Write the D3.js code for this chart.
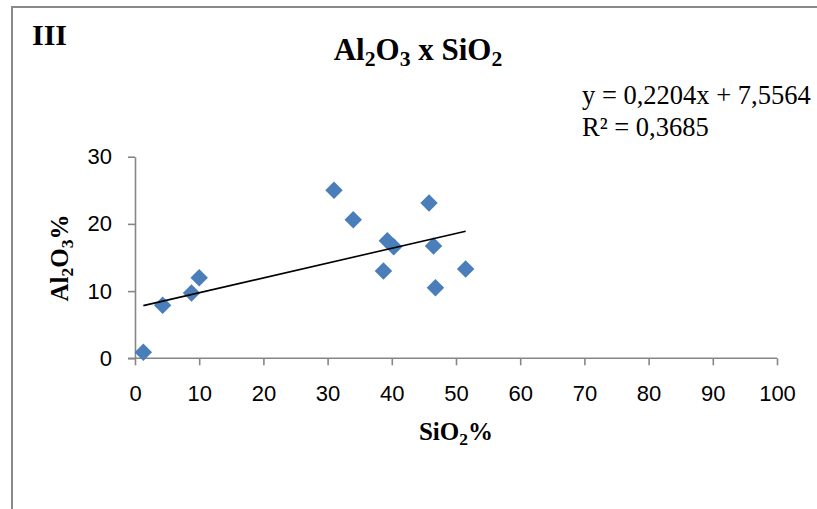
<!DOCTYPE html>
<html>
<head>
<meta charset="utf-8">
<script src="https://cdn.jsdelivr.net/npm/d3@7"></script>
<style>
  html, body { margin: 0; padding: 0; background: #fff; }
  svg { display: block; }
</style>
</head>
<body>
<svg id="chart" width="817" height="509"></svg>
<script>
// ---- data ----
const sio2 = [1.3, 4.3, 8.8, 10.0, 31.0, 34.0, 39.3, 40.3, 38.7, 45.8, 46.5, 46.8, 51.5];
const al2o3 = [0.9, 7.9, 9.7, 12.0, 25.0, 20.6, 17.5, 16.6, 13.0, 23.1, 16.7, 10.5, 13.3];
const xTicks = [0, 10, 20, 30, 40, 50, 60, 70, 80, 90, 100];
const yTicks = [0, 10, 20, 30];
const trendSlope = 0.2204;
const trendIntercept = 7.5564;
const equationText = "y = 0,2204x + 7,5564";
const r2Text = "R² = 0,3685";

const svg = d3.select("#chart");

// outer chart border
svg.append("rect")
  .attr("x", 12).attr("y", 7).attr("width", 830).attr("height", 520)
  .attr("fill", "#fff").attr("stroke", "#898989").attr("stroke-width", 2);

const x = d3.scaleLinear().domain([0, 100]).range([135, 777]);
const y = d3.scaleLinear().domain([0, 30]).range([358.3, 156.7]);

const axisColor = "#868686";
const tickFont = "'Liberation Sans', Arial, sans-serif";

// x axis
const gx = svg.append("g").attr("transform", `translate(0,${y(0)})`)
  .call(d3.axisBottom(x).tickValues(xTicks).tickSize(7).tickPadding(20).tickSizeOuter(0));
// y axis
const gy = svg.append("g").attr("transform", `translate(${x(0)},0)`)
  .call(d3.axisLeft(y).tickValues(yTicks).tickSize(7).tickPadding(16).tickSizeOuter(0));

[gx, gy].forEach(g => {
  g.select(".domain").attr("stroke", axisColor).attr("stroke-width", 1.6);
  g.selectAll(".tick line").attr("stroke", axisColor).attr("stroke-width", 1.6);
  g.selectAll(".tick text").attr("fill", "#000")
    .style("font-family", tickFont).style("font-size", "22px");
});
// horizontal axis extends left to the y tick end
gx.select(".domain").attr("d", `M${x(0) - 7},0H${x(100)}`);

// points
const pts = sio2.map((v, i) => ({ x: v, y: al2o3[i] }));
svg.append("g").selectAll("path")
  .data(pts).enter().append("path")
  .attr("d", d3.symbol().type(d3.symbolDiamond2).size(195))
  .attr("transform", d => `translate(${x(d.x)},${y(d.y)})`)
  .attr("fill", "#4a7ebb");

// trend line
const xmin = d3.min(sio2), xmax = d3.max(sio2);
svg.append("line")
  .attr("x1", x(xmin)).attr("y1", y(trendSlope * xmin + trendIntercept))
  .attr("x2", x(xmax)).attr("y2", y(trendSlope * xmax + trendIntercept))
  .attr("stroke", "#000").attr("stroke-width", 1.6);

const serif = "'Liberation Serif', 'Times New Roman', serif";

// panel label
svg.append("text").attr("x", 32).attr("y", 45)
  .style("font-family", serif).style("font-weight", "bold").style("font-size", "30px")
  .text("III");

// title with subscripts
function chem(sel, parts) {
  parts.forEach(p => {
    const t = sel.append("tspan").text(p[0]);
    if (p[1] === "sub") t.attr("baseline-shift", "-25%").style("font-size", "70%");
  });
}
const title = svg.append("text").attr("x", 418).attr("y", 60).attr("text-anchor", "middle")
  .style("font-family", serif).style("font-weight", "bold").style("font-size", "31px");
chem(title, [["Al"], ["2", "sub"], ["O"], ["3", "sub"], [" x SiO"], ["2", "sub"]]);

// equation
svg.append("text").attr("x", 582).attr("y", 104)
  .style("font-family", serif).style("font-size", "26.5px").text(equationText);
svg.append("text").attr("x", 582).attr("y", 136)
  .style("font-family", serif).style("font-size", "26.5px").text(r2Text);

// x label
const xl = svg.append("text").attr("x", 456).attr("y", 440).attr("text-anchor", "middle")
  .style("font-family", serif).style("font-weight", "bold").style("font-size", "25px");
chem(xl, [["SiO"], ["2", "sub"], ["%"]]);

// y label
const yl = svg.append("text").attr("transform", "translate(68,258) rotate(-90)").attr("text-anchor", "middle")
  .style("font-family", serif).style("font-weight", "bold").style("font-size", "25px");
chem(yl, [["Al"], ["2", "sub"], ["O"], ["3", "sub"], ["%"]]);
</script>
</body>
</html>
